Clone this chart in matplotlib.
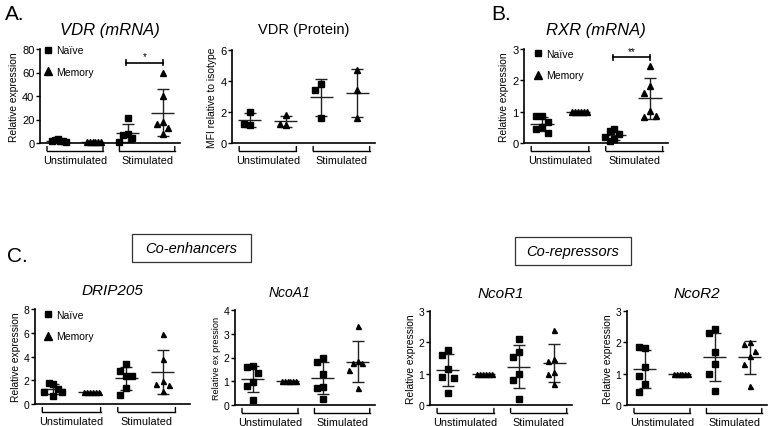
import numpy as np
import matplotlib
matplotlib.use("Agg")
import matplotlib.pyplot as plt
from matplotlib.lines import Line2D
from matplotlib.patches import Rectangle
import matplotlib.transforms as mtransforms

plt.rcParams['font.family'] = ['Liberation Sans', 'DejaVu Sans']

W, H = 769, 427

# ---------------- data ----------------
groups = ["Naïve Unstim", "Memory Unstim", "Naïve Stim", "Memory Stim"]
group_labels = ["Unstimulated", "Stimulated"]

vdr_mrna_naive_unstim = [3.0, 2.5, 2.0, 2.0, 1.5, 1.0]
vdr_mrna_memory_unstim = [1.0, 1.0, 1.0, 1.0, 1.0, 1.0]
vdr_mrna_naive_stim = [21, 8, 7, 4, 1]
vdr_mrna_memory_stim = [60, 40, 18, 16, 13, 8]

vdr_prot_naive_unstim = [2.0, 1.15, 1.25]
vdr_prot_memory_unstim = [1.8, 1.15, 1.25]
vdr_prot_naive_stim = [3.8, 3.45, 1.6]
vdr_prot_memory_stim = [4.7, 3.45, 1.62]

rxr_naive_unstim = [0.85, 0.85, 0.67, 0.5, 0.45, 0.33]
rxr_memory_unstim = [1.0, 1.0, 1.0, 1.0, 1.0, 1.0]
rxr_naive_stim = [0.45, 0.38, 0.28, 0.2, 0.12, 0.07]
rxr_memory_stim = [2.45, 1.81, 1.6, 1.03, 0.82, 0.85]

drip_naive_unstim = [1.7, 1.75, 1.3, 1.0, 1.0, 0.65]
drip_memory_unstim = [1.0, 1.0, 1.0, 1.0, 1.0, 1.0]
drip_naive_stim = [3.4, 2.75, 2.35, 2.35, 1.35, 0.76]
drip_memory_stim = [5.9, 3.8, 1.96, 1.7, 1.6, 1.07]

ncoa1_naive_unstim = [1.66, 1.58, 1.35, 0.98, 0.81, 0.21]
ncoa1_memory_unstim = [1.0, 1.0, 1.0, 1.0, 1.0, 1.0]
ncoa1_naive_stim = [1.97, 1.82, 1.3, 0.74, 0.7, 0.25]
ncoa1_memory_stim = [3.34, 1.87, 1.77, 1.77, 1.49, 0.7]

ncor1_naive_unstim = [1.76, 1.58, 1.15, 0.9, 0.85, 0.37]
ncor1_memory_unstim = [1.0, 1.0, 1.0, 1.0, 1.0, 1.0]
ncor1_naive_stim = [2.12, 1.68, 1.54, 0.99, 0.81, 0.19]
ncor1_memory_stim = [2.4, 1.48, 1.42, 1.05, 0.99, 0.67]

ncor2_naive_unstim = [1.83, 1.85, 1.2, 0.93, 0.66, 0.4]
ncor2_memory_unstim = [1.0, 1.0, 1.0, 1.0, 1.0, 1.0]
ncor2_naive_stim = [2.42, 2.3, 1.68, 1.3, 1.0, 0.45]
ncor2_memory_stim = [2.0, 1.95, 1.72, 1.55, 1.3, 0.6]

# ---------------- helpers ----------------
fig = plt.figure(figsize=(W / 100, H / 100), dpi=100)


def px_axes(x0, y0, x1, y1):
    return fig.add_axes([x0 / W, 1 - y1 / H, (x1 - x0) / W, (y1 - y0) / H])


def swarm(vals, span, dx=0.17, thr=0.1, maxw=0.25):
    placed = []
    offs = []
    for v in vals:
        o = 0.0
        for k in [0, -1, 1, -2, 2, 3, -3]:
            o = k * dx
            if all(abs(o - po) > dx * 0.9 or abs(v - pv) > thr * span for po, pv in placed):
                break
        placed.append((o, v))
        offs.append(o)
    offs = np.array(offs)
    mx = np.abs(offs).max()
    if mx > maxw:
        offs = offs * (maxw / mx)
    return offs


def panel(ax, series, ymax, yticks, ylabel, title, title_kw, xmax=3.5,
          sq_ms=4.3, tri_ms=4.0, ylabel_fs=7.4, tick_fs=8):
    markers = ['s', '^', 's', '^']
    for i, vals in enumerate(series):
        vals = np.asarray(vals, dtype=float)
        ms = sq_ms if markers[i] == 's' else tri_ms
        offs = swarm(vals, ymax)
        ax.plot(i + offs, vals, ls='none', marker=markers[i], color='black',
                ms=ms, clip_on=False, zorder=3)
        m = vals.mean()
        sd = vals.std(ddof=1)
        ax.hlines(m, i - 0.32, i + 0.32, color='#222222', lw=1.0, zorder=2)
        if sd > 1e-6:
            ax.errorbar(i, m, yerr=sd, fmt='none', ecolor='#222222',
                        elinewidth=1.0, capsize=4.3, capthick=1.0, zorder=2)
    ax.set_xlim(-0.5, xmax)
    ax.set_ylim(0, ymax)
    ax.set_yticks(yticks)
    ax.tick_params(axis='y', labelsize=tick_fs, length=3, width=1, pad=1)
    ax.set_xticks([])
    for s in ['top', 'right']:
        ax.spines[s].set_visible(False)
    for s in ['left', 'bottom']:
        ax.spines[s].set_linewidth(1.2)
    ax.set_ylabel(ylabel, fontsize=ylabel_fs, labelpad=2)
    ax.set_title(title, **title_kw)
    # group brackets under axis
    trans = mtransforms.blended_transform_factory(ax.transData, ax.transAxes)
    off_line = mtransforms.offset_copy(trans, fig=fig, x=0, y=-5.5, units='points')
    off_tick = mtransforms.offset_copy(trans, fig=fig, x=0, y=-2.5, units='points')
    off_text = mtransforms.offset_copy(trans, fig=fig, x=0, y=-12, units='points')
    for (a, b), lab in zip([(-0.3, 1.3), (1.77, 3.35)], group_labels):
        ax.plot([a, b], [0, 0], color='black', lw=1.0, transform=off_line, clip_on=False)
        for xx in (a, b):
            ax.annotate('', xy=(xx, 0), xycoords=off_tick, xytext=(xx, 0),
                        textcoords=off_line,
                        arrowprops=dict(arrowstyle='-', lw=1.0, color='black',
                                        shrinkA=0, shrinkB=0))
        ax.text((a + b) / 2, 0, lab, transform=off_text, ha='center', va='center',
                fontsize=7.8)


def legend(ax, anchor):
    h = [Line2D([], [], ls='none', marker='s', color='black', ms=5, label='Naïve'),
         Line2D([], [], ls='none', marker='^', color='black', ms=6.2, label='Memory')]
    ax.legend(handles=h, loc='upper left', bbox_to_anchor=anchor, frameon=False,
              fontsize=7.5, handlelength=1.0, handletextpad=0.3, labelspacing=1.1,
              borderpad=0, borderaxespad=0)


def sig(ax, x0, x1, y, txt, tick):
    ax.plot([x0, x1], [y, y], color='black', lw=1.2, clip_on=False)
    for xx in (x0, x1):
        ax.plot([xx, xx], [y - tick, y + tick], color='black', lw=1.2, clip_on=False)
    ax.text((x0 + x1) / 2, y + tick * 0.6, txt, ha='center', va='bottom', fontsize=7)


# ---------------- panel A: VDR mRNA ----------------
ax = px_axes(40, 50, 180, 144)
panel(ax, [vdr_mrna_naive_unstim, vdr_mrna_memory_unstim, vdr_mrna_naive_stim, vdr_mrna_memory_stim],
      80, [0, 20, 40, 60, 80], 'Relative expression', 'VDR (mRNA)',
      dict(fontsize=12, style='italic', pad=11), tri_ms=3.8)
legend(ax, (0.02, 1.04))
sig(ax, 1.96, 3.0, 68.5, '*', 2.5)

# ---------------- panel A: VDR Protein ----------------
ax = px_axes(232, 51, 375, 144)
panel(ax, [vdr_prot_naive_unstim, vdr_prot_memory_unstim, vdr_prot_naive_stim, vdr_prot_memory_stim],
      6, [0, 2, 4, 6], 'MFI relative to isotype', 'VDR (Protein)',
      dict(fontsize=10.5, pad=12), tri_ms=3.8)

# ---------------- panel B: RXR mRNA ----------------
ax = px_axes(524, 50, 668, 144)
panel(ax, [rxr_naive_unstim, rxr_memory_unstim, rxr_naive_stim, rxr_memory_stim],
      3, [0, 1, 2, 3], 'Relative expression', 'RXR (mRNA)',
      dict(fontsize=12, style='italic', pad=11), tri_ms=3.8)
legend(ax, (0.06, 1.0))
sig(ax, 1.96, 3.0, 2.73, '**', 0.09)

# ---------------- panel C ----------------
ax = px_axes(35, 310, 190, 405)
panel(ax, [drip_naive_unstim, drip_memory_unstim, drip_naive_stim, drip_memory_stim],
      8, [0, 2, 4, 6, 8], 'Relative expression', 'DRIP205',
      dict(fontsize=11, style='italic', pad=11), xmax=3.75, tri_ms=3.6, tick_fs=7.5)
legend(ax, (0.05, 0.99))

ax = px_axes(235, 311, 375, 406)
panel(ax, [ncoa1_naive_unstim, ncoa1_memory_unstim, ncoa1_naive_stim, ncoa1_memory_stim],
      4, [0, 1, 2, 3, 4], 'Relative ex pression', 'NcoA1',
      dict(fontsize=10, style='italic', pad=10, x=0.39), tri_ms=3.6, tick_fs=7.5,
      ylabel_fs=6.6)

ax = px_axes(430, 312, 572, 406)
panel(ax, [ncor1_naive_unstim, ncor1_memory_unstim, ncor1_naive_stim, ncor1_memory_stim],
      3, [0, 1, 2, 3], 'Relative expression', 'NcoR1',
      dict(fontsize=11, style='italic', pad=10), tri_ms=3.6, tick_fs=7.5)

ax = px_axes(627, 312, 767, 406)
panel(ax, [ncor2_naive_unstim, ncor2_memory_unstim, ncor2_naive_stim, ncor2_memory_stim],
      3, [0, 1, 2, 3], 'Relative expression', 'NcoR2',
      dict(fontsize=11, style='italic', pad=10), tri_ms=3.6, tick_fs=7.5)

# ---------------- panel letters and boxes ----------------
fig.text(5 / W, 1 - 14 / H, 'A.', fontsize=15, va='center', ha='left')
fig.text(491 / W, 1 - 14 / H, 'B.', fontsize=15, va='center', ha='left')
fig.text(7 / W, 1 - 257 / H, 'C.', fontsize=15, va='center', ha='left')

for (x0, y0, x1, y1), txt in [((132, 235, 251, 263), 'Co-enhancers'),
                              ((515, 238, 631, 266), 'Co-repressors')]:
    fig.patches.append(Rectangle((x0 / W, 1 - y1 / H), (x1 - x0) / W, (y1 - y0) / H,
                                 transform=fig.transFigure, fill=False,
                                 edgecolor='#333333', lw=0.9))
    fig.text((x0 + x1) / 2 / W, 1 - (y0 + y1) / 2 / H, txt, fontsize=10.5,
             style='italic', ha='center', va='center')

fig.savefig('out.png', dpi=100)
